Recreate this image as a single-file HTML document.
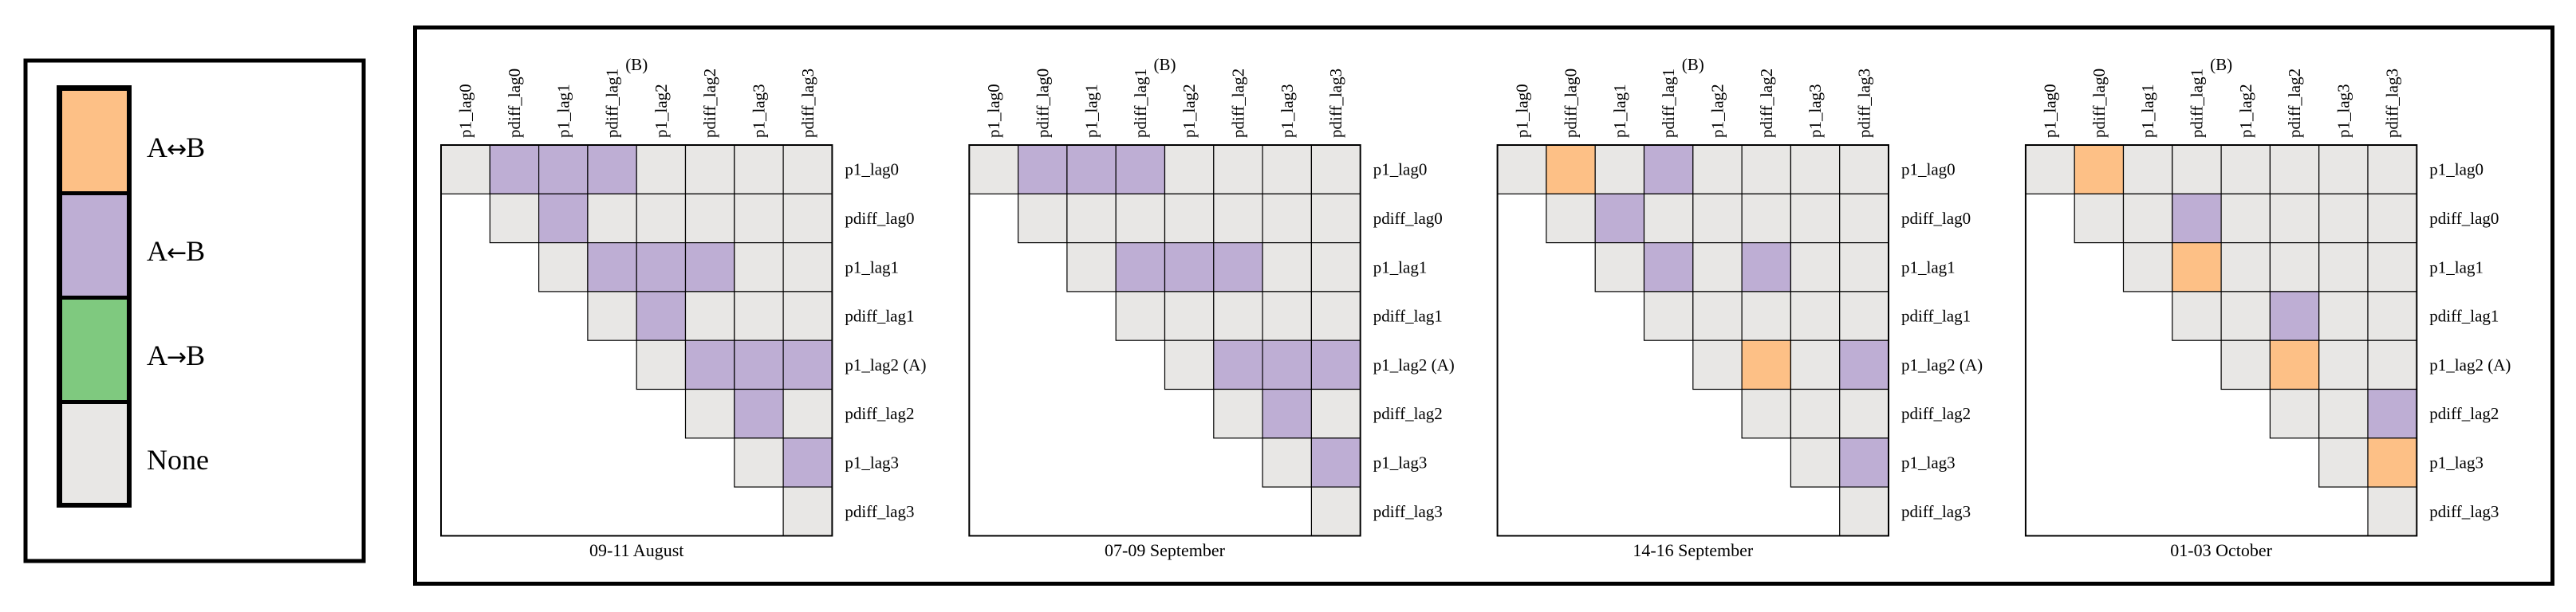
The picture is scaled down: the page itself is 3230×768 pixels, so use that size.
<!DOCTYPE html>
<html><head><meta charset="utf-8">
<style>
html,body{margin:0;padding:0;background:#fff;}
svg{display:block;font-family:"Liberation Serif","DejaVu Serif",serif;}
</style></head>
<body>
<svg id="chart" width="3230" height="768" viewBox="0 0 3230 768" xmlns="http://www.w3.org/2000/svg">
  <g>
    <rect x="32" y="76" width="424" height="628" fill="#fff" stroke="#000" stroke-width="5"/>
    <rect x="71" y="107" width="94" height="530" fill="#000"/>
    <rect x="78" y="114" width="81" height="126" fill="#fdc086"/>
    <rect x="78" y="245" width="81" height="126" fill="#beaed4"/>
    <rect x="78" y="376" width="81" height="126" fill="#7fc97f"/>
    <rect x="78" y="507" width="81" height="124" fill="#e8e7e5"/>
    <text x="184" y="197" font-size="36">A<tspan font-family="DejaVu Sans, sans-serif" font-size="30" dx="-1">↔</tspan><tspan dx="-1">B</tspan></text>
    <text x="184" y="327" font-size="36">A<tspan font-family="DejaVu Sans, sans-serif" font-size="30" dx="-1">←</tspan><tspan dx="-1">B</tspan></text>
    <text x="184" y="458" font-size="36">A<tspan font-family="DejaVu Sans, sans-serif" font-size="30" dx="-1">→</tspan><tspan dx="-1">B</tspan></text>
    <text x="184" y="589" font-size="36">None</text>
  </g>
  <rect x="520.5" y="34.5" width="2680" height="698" fill="none" stroke="#000" stroke-width="5"/>
  <g id="panels"></g>
</svg>
<script>
const variables = ["p1_lag0","pdiff_lag0","p1_lag1","pdiff_lag1","p1_lag2","pdiff_lag2","p1_lag3","pdiff_lag3"];
const rowLabels = ["p1_lag0","pdiff_lag0","p1_lag1","pdiff_lag1","p1_lag2 (A)","pdiff_lag2","p1_lag3","pdiff_lag3"];
const panelTitles = ["09-11 August","07-09 September","14-16 September","01-03 October"];
const categoryColors = ["#e8e7e5","#fdc086","#beaed4","#7fc97f"]; // 0 none, 1 A<->B, 2 A<-B, 3 A->B
// each panel: list of [row, col, category] for non-"None" cells
const panelAug = [[0,1,2],[0,2,2],[0,3,2],[1,2,2],[2,3,2],[2,4,2],[2,5,2],[3,4,2],[4,5,2],[4,6,2],[4,7,2],[5,6,2],[6,7,2]];
const panelSep07 = [[0,1,2],[0,2,2],[0,3,2],[2,3,2],[2,4,2],[2,5,2],[4,5,2],[4,6,2],[4,7,2],[5,6,2],[6,7,2]];
const panelSep14 = [[0,1,1],[0,3,2],[1,2,2],[2,3,2],[2,5,2],[4,5,1],[4,7,2],[6,7,2]];
const panelOct = [[0,1,1],[1,3,2],[2,3,1],[3,5,2],[4,5,1],[5,7,2],[6,7,1]];
const panelData = [panelAug, panelSep07, panelSep14, panelOct];

const NS = "http://www.w3.org/2000/svg";
const root = document.getElementById("panels");
const cell = 61.3, top0 = 182, left0 = 553, step = 662.3;
function mk(tag, attrs, parent){const e=document.createElementNS(NS,tag);for(const k in attrs)e.setAttribute(k,attrs[k]);parent.appendChild(e);return e;}
const xs = (p, c) => left0 + p*step + c*cell;
const ys = r => top0 + r*cell;

panelData.forEach((cells, p) => {
  const g = mk("g", {}, root);
  
  
  const n = variables.length;
  const grid = {};
  cells.forEach(([r,c,k]) => grid[r+"_"+c] = k);
  for (let r=0;r<n;r++) for (let c=r;c<n;c++){
    const k = grid[r+"_"+c] || 0;
    const rc = mk("rect", {x:xs(p,c), y:ys(r), width:cell, height:cell, fill:categoryColors[k], stroke:"#000", "stroke-width":1.2}, g);
    
    
  }
  const fr = mk("rect", {x:xs(p,0), y:ys(0), width:cell*n, height:cell*n, fill:"none", stroke:"#000", "stroke-width":2}, g);
  
  
  variables.forEach((v,c) => {
    const cx = xs(p,c) + cell/2 + 7, by = 173;
    const t = mk("text", {x:cx, y:by, "font-size":21, transform:`rotate(-90 ${cx} ${by})`}, g);
    t.textContent = v;
    
    
  });
  rowLabels.forEach((v,r) => {
    const t = mk("text", {x:xs(p,n)+16, y:ys(r)+cell/2+7, "font-size":21}, g);
    t.textContent = v;
    
    
  });
  const b = mk("text", {x:xs(p,n/2), y:88, "font-size":21, "text-anchor":"middle"}, g);
  b.textContent = "(B)";
  
  
  const tt = mk("text", {x:xs(p,n/2), y:698, "font-size":22, "text-anchor":"middle"}, g);
  tt.textContent = panelTitles[p];
  
  
});
</script>
</body></html>
